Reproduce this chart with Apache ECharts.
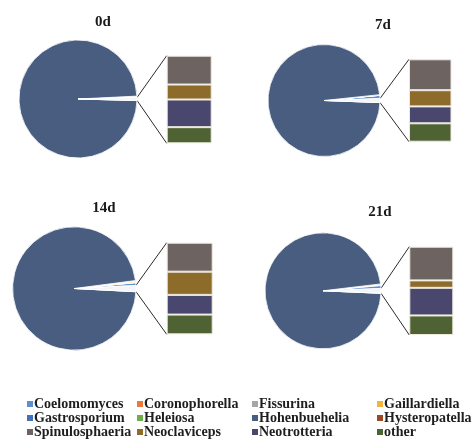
<!DOCTYPE html>
<html>
<head>
<meta charset="utf-8">
<script src="https://cdn.jsdelivr.net/npm/echarts@6/dist/echarts.min.js"></script>
<style>
  html, body { margin: 0; padding: 0; background: #fff; }
  #chart { width: 473px; height: 440px; }
</style>
</head>
<body>
<div id="chart"></div>
<script>
// Sampling days
const days = ['0d', '7d', '14d', '21d'];

// Genera drawn as pie slices (relative abundance, %), one value per day
const pieGenera = ['Coelomomyces', 'Coronophorella', 'Fissurina', 'Gaillardiella',
                   'Gastrosporium', 'Heleiosa', 'Hohenbuehelia', 'Hysteropatella'];
const coelomomyces   = [0.25, 0.90, 0.70, 0.80];
const coronophorella = [0.02, 0.03, 0.05, 0.20];
const fissurina      = [0.03, 0.04, 0.08, 0.05];
const gaillardiella  = [0.03, 0.05, 0.30, 0.08];
const gastrosporium  = [0.05, 0.06, 0.10, 0.08];
const heleiosa       = [0.02, 0.03, 0.04, 0.03];
const hohenbuehelia  = [98.82, 97.74, 97.10, 97.41];
const hysteropatella = [0.02, 0.03, 0.05, 0.04];

// Genera split out into the stacked bar (top to bottom)
const barGenera = ['Spinulosphaeria', 'Neoclaviceps', 'Neotrotteria', 'other'];
const spinulosphaeria = [0.25, 0.42, 0.50, 0.50];
const neoclaviceps    = [0.13, 0.22, 0.40, 0.11];
const neotrotteria    = [0.24, 0.23, 0.34, 0.41];
const otherGenera     = [0.14, 0.25, 0.34, 0.29];

const pieValues = [coelomomyces, coronophorella, fissurina, gaillardiella,
                   gastrosporium, heleiosa, hohenbuehelia, hysteropatella];
const barValues = [spinulosphaeria, neoclaviceps, neotrotteria, otherGenera];

const colors = {
  Coelomomyces: '#5b8fcf', Coronophorella: '#ea7a3c', Fissurina: '#a7a7a7',
  Gaillardiella: '#f6b23a', Gastrosporium: '#4470b8', Heleiosa: '#6fae4c',
  Hohenbuehelia: '#485d80', Hysteropatella: '#9a4a22',
  Spinulosphaeria: '#6d6360', Neoclaviceps: '#8d6b2b', Neotrotteria: '#4a476f',
  other: '#4f6233'
};

// Panel layout: pie centre/radius, bar box, title position
const panels = [
  { cx: 78,  cy: 99,  r: 59,  bx: 166.7, by: 55.7,  bw: 45,   bh: 87.6, tx: 98,  ty: 10 },
  { cx: 324, cy: 100.5, r: 56, bx: 409,  by: 59.3,  bw: 42.5, bh: 82.4, tx: 378, ty: 13 },
  { cx: 74.3, cy: 288.5, r: 61.7, bx: 166.7, by: 242.7, bw: 46, bh: 91.6, tx: 99,  ty: 196 },
  { cx: 323, cy: 290.8, r: 58, bx: 409.3, by: 246.7, bw: 44,  bh: 88.3, tx: 375, ty: 200 }
];

const serif = '"Liberation Serif", "Times New Roman", serif';

const series = [];
const grids = [], xAxes = [], yAxes = [], titles = [], graphics = [];

days.forEach((day, i) => {
  const p = panels[i];
  const groupSum = barValues.reduce((s, arr) => s + arr[i], 0);
  const total = pieValues.reduce((s, arr) => s + arr[i], 0) + groupSum;
  const groupAngle = 360 * groupSum / total;

  const pieData = pieGenera.map((g, k) => ({
    name: g, value: pieValues[k][i], itemStyle: { color: colors[g] }
  }));
  // combined slice standing for the genera shown in the bar
  pieData.push({ name: 'group', value: groupSum, itemStyle: { color: '#f3f5f9' } });

  series.push({
    type: 'pie',
    center: [p.cx, p.cy],
    radius: [0, p.r],
    startAngle: groupAngle / 2,
    clockwise: false,
    silent: true,
    label: { show: false },
    labelLine: { show: false },
    itemStyle: { borderColor: '#ffffff', borderWidth: 0.8 },
    emphasis: { disabled: true },
    data: pieData
  });

  grids.push({ left: p.bx, top: p.by, width: p.bw, height: p.bh });
  xAxes.push({ type: 'category', gridIndex: i, data: [day], show: false });
  yAxes.push({ type: 'value', gridIndex: i, min: 0, max: groupSum, show: false });

  // stack from the bottom up
  for (let k = barGenera.length - 1; k >= 0; k--) {
    const g = barGenera[k];
    series.push({
      type: 'bar', name: g, stack: 'grp' + i,
      xAxisIndex: i, yAxisIndex: i,
      barWidth: '100%', silent: true,
      itemStyle: { color: colors[g], borderColor: '#eeeae0', borderWidth: 1 },
      emphasis: { disabled: true },
      data: [barValues[k][i]]
    });
  }

  // connector lines from the combined slice to the bar corners
  const half = groupAngle / 2 * Math.PI / 180;
  const ex = p.cx + p.r * Math.cos(half);
  graphics.push({
    type: 'line', silent: true,
    shape: { x1: ex, y1: p.cy - p.r * Math.sin(half), x2: p.bx, y2: p.by },
    style: { stroke: '#2b2b2b', lineWidth: 1 }
  });
  graphics.push({
    type: 'line', silent: true,
    shape: { x1: ex, y1: p.cy + p.r * Math.sin(half), x2: p.bx, y2: p.by + p.bh },
    style: { stroke: '#2b2b2b', lineWidth: 1 }
  });

  titles.push({
    text: day, left: p.tx, top: p.ty, textAlign: 'center',
    textStyle: { fontFamily: serif, fontWeight: 'bold', fontSize: 15, color: '#1a1a1a' }
  });
});

// Legend: four columns of three entries, one legend box per entry;
// the square key sits right against its label
const legendOrder = [...pieGenera, ...barGenera];
const columnX = [21, 131, 246, 371];
const rowY = [397, 411, 425];
const legends = legendOrder.map((name, n) => ({
  left: columnX[n % 4], top: rowY[Math.floor(n / 4)],
  padding: 0,
  itemWidth: 0, itemHeight: 0,
  icon: 'rect',
  selectedMode: false,
  data: [name],
  formatter: '{m|}{t|{name}}',
  textStyle: {
    fontFamily: serif, fontWeight: 'bold', fontSize: 14, color: '#1e1e1e', lineHeight: 14,
    rich: {
      m: { width: 6, height: 6, backgroundColor: colors[name], verticalAlign: 'middle' },
      t: { fontFamily: serif, fontWeight: 'bold', fontSize: 14, color: '#1e1e1e',
           lineHeight: 14, padding: [0, 0, 0, 1] }
    }
  }
}));

const chart = echarts.init(document.getElementById('chart'), null, { renderer: 'canvas' });
chart.setOption({
  animation: false,
  backgroundColor: '#ffffff',
  title: titles,
  legend: legends,
  grid: grids,
  xAxis: xAxes,
  yAxis: yAxes,
  series: series,
  graphic: graphics
});
</script>
</body>
</html>
